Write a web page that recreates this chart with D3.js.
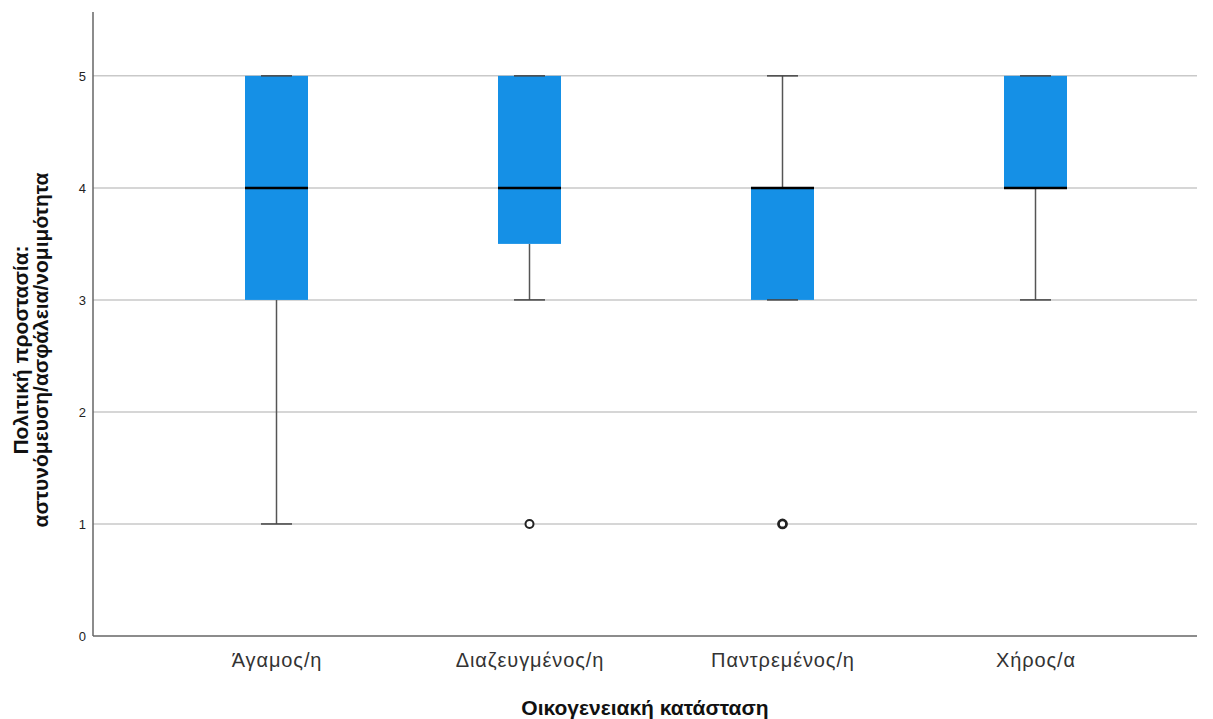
<!DOCTYPE html>
<html><head><meta charset="utf-8">
<script src="https://cdn.jsdelivr.net/npm/d3@7"></script>
<style>body{margin:0;background:#fff;}svg{display:block;font-family:"Liberation Sans",Arial,sans-serif;}</style>
</head><body>
<svg id="c" width="1213" height="719"></svg>
<script>
const categories = ["Άγαμος/η", "Διαζευγμένος/η", "Παντρεμένος/η", "Χήρος/α"];
const whiskerLow  = [1, 3, 3, 3];
const q1          = [3, 3.5, 3, 4];
const median      = [4, 4, 4, 4];
const q3          = [5, 5, 4, 5];
const whiskerHigh = [5, 5, 5, 5];
const outliers    = [[], [1], [1], []];
const yTicks = [0, 1, 2, 3, 4, 5];
const xTitle = "Οικογενειακή κατάσταση";
const yTitle = ["Πολιτική προστασία:", "αστυνόμευση/ασφάλεια/νομιμότητα"];

(function () {
const svg = d3.select("#c");
const pL = 93, pR = 1197, pT = 12, pB = 636;
const y = d3.scaleLinear().domain([0, 5.57]).range([pB, pT]);
const x = d3.scalePoint().domain(categories).range([276.5, 1035.5]);
const boxW = 63, capW = 31;

svg.append("g").selectAll("line").data(yTicks.filter(d => d > 0)).join("line")
  .attr("x1", pL).attr("x2", pR)
  .attr("y1", d => y(d)).attr("y2", d => y(d))
  .attr("stroke", "#c9c9c9").attr("stroke-width", 1.5);

const yAxis = svg.append("g").attr("transform", `translate(${pL},0)`)
  .call(d3.axisLeft(y).tickValues(yTicks).tickSize(0).tickPadding(7).tickFormat(d3.format("d")));
yAxis.select(".domain").remove();
yAxis.selectAll("text").attr("font-size", 13).attr("fill", "#222").attr("font-family", "Liberation Sans, Arial, sans-serif");

const xAxis = svg.append("g").attr("transform", `translate(0,${pB})`)
  .call(d3.axisBottom(x).tickSize(0).tickPadding(17));
xAxis.select(".domain").remove();
xAxis.selectAll("text").attr("font-size", 20).attr("letter-spacing", 0.9).attr("fill", "#333").attr("font-family", "Liberation Sans, Arial, sans-serif");

svg.append("line").attr("x1", pL).attr("x2", pL).attr("y1", pT).attr("y2", pB)
  .attr("stroke", "#666").attr("stroke-width", 1.5);
svg.append("line").attr("x1", pL).attr("x2", pR).attr("y1", pB).attr("y2", pB)
  .attr("stroke", "#666").attr("stroke-width", 1.5);

const g = svg.append("g");
categories.forEach((c, i) => {
  const cx = x(c);
  g.append("line").attr("x1", cx).attr("x2", cx).attr("y1", y(whiskerLow[i])).attr("y2", y(q1[i]))
    .attr("stroke", "#555").attr("stroke-width", 1.5);
  g.append("line").attr("x1", cx).attr("x2", cx).attr("y1", y(q3[i])).attr("y2", y(whiskerHigh[i]))
    .attr("stroke", "#555").attr("stroke-width", 1.5);
  g.append("rect").attr("x", cx - boxW / 2).attr("width", boxW)
    .attr("y", y(q3[i])).attr("height", y(q1[i]) - y(q3[i]))
    .attr("fill", "#1590e6");
  [whiskerLow[i], whiskerHigh[i]].forEach(v => {
    g.append("line").attr("x1", cx - capW / 2).attr("x2", cx + capW / 2).attr("y1", y(v)).attr("y2", y(v))
      .attr("stroke", "#444").attr("stroke-width", 1.5);
  });
  g.append("line").attr("x1", cx - boxW / 2).attr("x2", cx + boxW / 2).attr("y1", y(median[i])).attr("y2", y(median[i]))
    .attr("stroke", "#000").attr("stroke-width", 2.5);
  outliers[i].forEach(v => {
    g.append("circle").attr("cx", cx).attr("cy", y(v)).attr("r", 4)
      .attr("fill", "#fff").attr("stroke", "#222").attr("stroke-width", i === 2 ? 2.8 : 2);
  });
});

svg.append("text").attr("x", 645).attr("y", 715).attr("text-anchor", "middle")
  .attr("font-size", 21).attr("font-weight", "bold").attr("fill", "#111").text(xTitle);
const yt = svg.append("text").attr("transform", "translate(28,350) rotate(-90)")
  .attr("text-anchor", "middle").attr("font-size", 21).attr("font-weight", "bold").attr("fill", "#111");
yt.append("tspan").attr("x", 0).attr("y", 0).text(yTitle[0]);
yt.append("tspan").attr("x", 0).attr("y", 20).text(yTitle[1]);
})();
</script>
</body></html>
